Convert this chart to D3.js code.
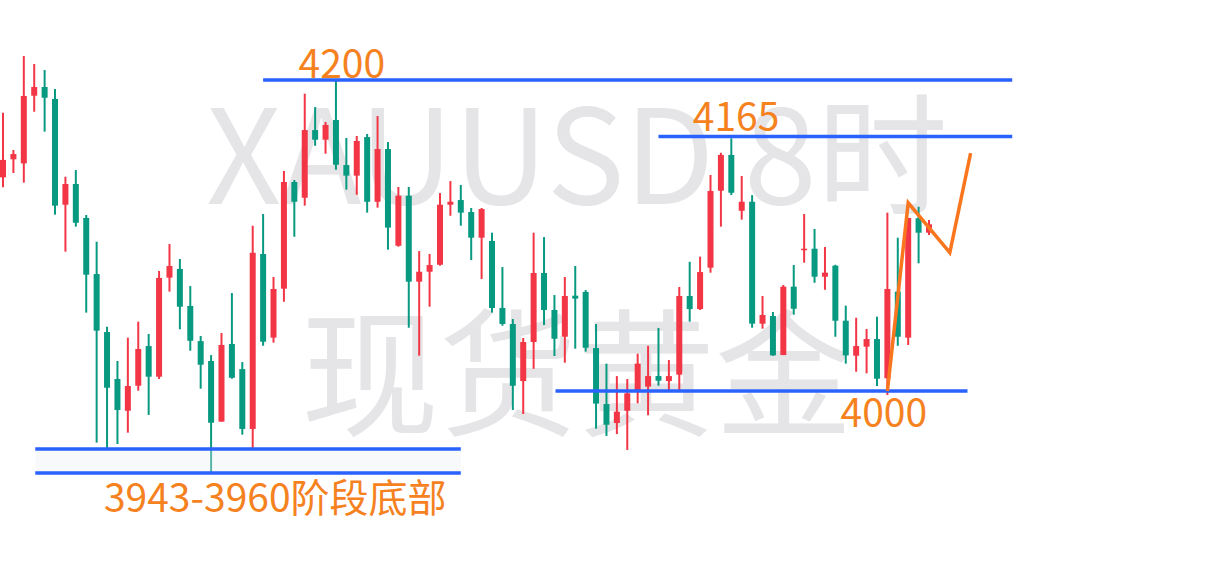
<!DOCTYPE html>
<html lang="zh">
<head>
  <meta charset="UTF-8">
  <script src="https://d3js.org/d3.v7.min.js"></script>
  <title>XAUUSD 8时</title>
  <style>
    html, body { margin: 0; padding: 0; background: #fff; }
    svg { display: block; }
  </style>
</head>
<body>
  <svg id="chart" width="1208" height="566"></svg>
  <script>
    // K线数据 (8小时), 价格
    const opens = [4137.4, 4149.0, 4146.4, 4189.9, 4195.5, 4187.8, 4119.8, 4133.1, 4111.3, 4075.2,
      4037.9, 4007.7, 3987.3, 4003.4, 4028.9, 4009.2, 4072.9, 4078.5, 4054.7, 4032.1,
      4019.3, 3980.3, 4030.2, 4014.1, 3975.6, 4088.1, 4034.3, 4065.8, 4134.4, 4124.3,
      4167.8, 4161.6, 4174.3, 4145.3, 4138.5, 4163.3, 4121.7, 4155.6, 4093.4, 4125.6,
      4070.3, 4076.7, 4081.2, 4119.8, 4122.8, 4115.1, 4098.6, 4096.5, 4053.4, 4043.1,
      4006.4, 4031.5, 4075.9, 4052.1, 4034.9, 4061.3, 4063.7, 4027.6, 3991.6, 3979.4,
      3987.3, 4000.2, 4002.8, 4009.6, 4006.4, 4010.5, 4061.1, 4052.7, 4079.3, 4128.8,
      4151.8, 4115.9, 4121.7, 4043.3, 4048.2, 4023.1, 4067.1, 4090.5, 4091.5, 4073.5,
      4080.6, 4045.2, 4022.7, 4028.5, 4033.4, 4008.2, 4063.9, 4034.3, 4111.1, 4101.8];
    const highs = [4179.0, 4155.0, 4215.4, 4210.3, 4206.4, 4194.2, 4137.8, 4142.1, 4113.2, 4096.0,
      4041.3, 4019.3, 4034.3, 4044.6, 4036.7, 4077.2, 4094.5, 4084.9, 4067.5, 4035.4,
      4023.1, 4037.3, 4063.0, 4018.6, 4106.3, 4113.8, 4073.3, 4141.5, 4135.7, 4191.2,
      4182.6, 4173.0, 4200.0, 4162.7, 4164.0, 4165.3, 4176.8, 4160.1, 4131.2, 4131.2,
      4090.0, 4088.1, 4127.3, 4135.0, 4132.5, 4117.7, 4117.7, 4101.8, 4079.7, 4046.3,
      4034.1, 4101.8, 4099.0, 4061.7, 4073.3, 4080.4, 4064.9, 4043.1, 4017.6, 4009.6,
      4007.7, 4024.0, 4029.1, 4040.5, 4019.9, 4066.9, 4083.1, 4086.4, 4138.9, 4153.2,
      4162.5, 4138.3, 4126.0, 4061.1, 4050.8, 4068.2, 4081.0, 4113.8, 4104.2, 4092.6,
      4081.2, 4054.9, 4047.1, 4039.9, 4047.8, 4114.7, 4098.6, 4111.3, 4118.5, 4110.0];
    const lows = [4131.0, 4140.2, 4134.0, 4179.6, 4166.8, 4113.4, 4089.6, 4105.7, 4050.4, 3966.8,
      3963.2, 3965.9, 3973.2, 4000.2, 3984.6, 4007.7, 4063.9, 4039.7, 4025.9, 4001.5,
      3947.3, 3980.3, 4007.9, 3971.9, 3963.2, 4029.1, 4031.1, 4057.4, 4099.2, 4119.2,
      4157.7, 4152.6, 4142.3, 4129.5, 4126.2, 4114.7, 4117.9, 4090.9, 4092.8, 4040.7,
      4022.7, 4054.2, 4080.6, 4112.7, 4106.3, 4084.2, 4072.0, 4050.4, 4042.0, 3987.8,
      3985.2, 4014.3, 4042.4, 4022.5, 4018.2, 4027.2, 4025.3, 3975.8, 3971.1, 3972.3,
      3962.1, 3992.1, 3984.4, 4003.4, 4000.2, 4000.2, 4044.6, 4052.1, 4076.1, 4105.7,
      4126.0, 4110.2, 4040.7, 4040.1, 4022.7, 4023.1, 4049.1, 4082.5, 4069.6, 4065.1,
      4034.9, 4017.6, 4012.4, 4011.4, 4003.2, 3997.4, 4029.1, 4029.6, 4082.1, 4100.3];
    const closes = [4148.6, 4152.4, 4189.7, 4195.5, 4188.6, 4119.2, 4133.1, 4108.2, 4074.8, 4038.8,
      4002.1, 3987.8, 4003.2, 4027.0, 4009.2, 4072.7, 4080.4, 4054.2, 4032.3, 4016.9,
      3979.6, 4029.6, 4008.5, 3975.6, 4088.9, 4031.7, 4065.6, 4134.4, 4121.7, 4167.8,
      4161.6, 4171.1, 4145.5, 4138.5, 4160.8, 4121.7, 4155.6, 4105.1, 4125.6, 4070.3,
      4076.7, 4081.0, 4119.8, 4121.7, 4114.7, 4098.6, 4117.0, 4053.4, 4043.1, 4003.4,
      4031.5, 4075.9, 4052.1, 4033.6, 4061.1, 4059.4, 4027.8, 3991.9, 3978.3, 3986.7,
      3998.5, 4017.6, 4009.6, 4006.6, 4009.6, 4061.1, 4052.7, 4076.5, 4128.6, 4151.8,
      4127.5, 4121.7, 4043.3, 4048.9, 4022.9, 4067.1, 4052.9, 4091.5, 4073.5, 4076.1,
      4045.2, 4022.9, 4028.9, 4033.4, 4007.9, 4065.6, 4034.9, 4111.3, 4101.8, 4107.2];

    // 水平线: 价格, 起止K线序号
    const levelPrices = [4200, 4163.7, 4000, 3962.7, 3947.3];
    const levelFrom = [25, 63, 53.1, 3.1, 3.1];
    const levelTo = [97, 97, 92.7, 44, 44];

    // 文字标注
    const labelTexts = ["4200", "4165", "4000", "3943-3960阶段底部"];
    const labelIdx = [28.4, 66.3, 80.5, 9.7];
    const labelPrice = [4201.3, 4167.4, 3976.8, 3922.2];

    // 预期走势折线
    const pathIdx = [85, 87, 91, 93];
    const pathPrice = [4000, 4121, 4089, 4153];

    const watermark = ["XAUUSD 8时", "现货黄金"];

    const svg = d3.select("#chart");
    const W = 1208, H = 566;
    const up = "#F23645", down = "#089981";

    const x = d3.scaleLinear().domain([0, opens.length - 1]).range([3, 929]);
    const y = d3.scaleLinear().domain([4000, 4200]).range([391, 80]);

    svg.append("rect").attr("width", W).attr("height", H).attr("fill", "#fff");

    // 水印
    svg.append("g")
      .selectAll("text")
      .data(watermark)
      .join("text")
      .attr("x", 577)
      .attr("y", (d, i) => i === 0 ? 204 : 425)
      .attr("text-anchor", "middle")
      .attr("font-family", "'Noto Sans CJK SC', 'Noto Sans', sans-serif")
      .attr("font-size", (d, i) => i === 0 ? 131 : 138)
      .attr("fill", "#E5E5E8")
      .text(d => d);

    const candles = d3.range(opens.length).map(i => ({
      i, o: opens[i], h: highs[i], l: lows[i], c: closes[i]
    }));

    const g = svg.append("g");
    g.selectAll("line.wick")
      .data(candles)
      .join("line")
      .attr("class", "wick")
      .attr("x1", d => x(d.i)).attr("x2", d => x(d.i))
      .attr("y1", d => y(d.h)).attr("y2", d => y(d.l))
      .attr("stroke", d => d.c >= d.o ? up : down)
      .attr("stroke-width", 2);

    g.selectAll("rect.body")
      .data(candles)
      .join("rect")
      .attr("class", "body")
      .attr("x", d => x(d.i) - 3)
      .attr("width", 6)
      .attr("y", d => y(Math.max(d.o, d.c)))
      .attr("height", d => Math.max(1, Math.abs(y(d.o) - y(d.c))))
      .attr("fill", d => d.c >= d.o ? up : down);

    // 底部区间的浅灰底色
    svg.append("rect")
      .attr("x", x(levelFrom[3]))
      .attr("width", x(levelTo[3]) - x(levelFrom[3]))
      .attr("y", y(levelPrices[3]))
      .attr("height", y(levelPrices[4]) - y(levelPrices[3]))
      .attr("fill", "rgba(235,237,242,0.35)");

    svg.append("g")
      .selectAll("line")
      .data(levelPrices)
      .join("line")
      .attr("x1", (d, i) => x(levelFrom[i]))
      .attr("x2", (d, i) => x(levelTo[i]))
      .attr("y1", d => y(d)).attr("y2", d => y(d))
      .attr("stroke", "#2962FF")
      .attr("stroke-width", 3.5);

    const line = d3.line()
      .x((d, i) => x(pathIdx[i]))
      .y(d => y(d));

    svg.append("path")
      .attr("d", line(pathPrice))
      .attr("fill", "none")
      .attr("stroke", "#FA761E")
      .attr("stroke-width", 3.5)
      .attr("stroke-linejoin", "miter");

    svg.append("g")
      .selectAll("text")
      .data(labelTexts)
      .join("text")
      .attr("x", (d, i) => x(labelIdx[i]))
      .attr("y", (d, i) => y(labelPrice[i]))
      .attr("font-family", "'Noto Sans CJK SC', 'Noto Sans', sans-serif")
      .attr("font-size", 39)
      .attr("fill", "#F5821F")
      .text(d => d);
  </script>
</body>
</html>
